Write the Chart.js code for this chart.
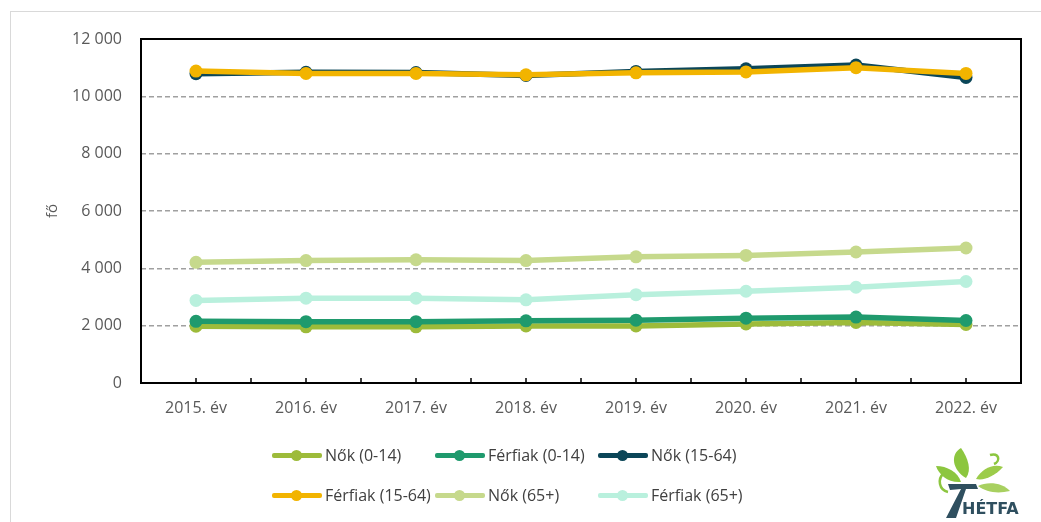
<!DOCTYPE html>
<html>
<head>
<meta charset="utf-8">
<script src="https://cdn.jsdelivr.net/npm/chart.js@4/dist/chart.umd.min.js"></script>
<style>
  html, body { margin:0; padding:0; background:#fff; }
  #wrap { position:relative; width:1041px; height:522px; overflow:hidden; background:#fff; font-family:"Open Sans", "Noto Sans", sans-serif; }
  #frame { position:absolute; left:10px; top:11px; width:1200px; height:700px; border:1px solid #d9d9d9; }
  #c { position:absolute; left:0; top:0; }
  .lg { position:absolute; height:20px; display:flex; align-items:center; font-size:16px; color:#404040; white-space:nowrap; }
  .lg .mk { position:relative; width:50px; height:5px; margin-right:3px; border-radius:2px; }
  .lg .mk i { position:absolute; left:19px; top:-3px; width:11px; height:11px; border-radius:50%; background:inherit; }
  #logo { position:absolute; left:930px; top:448px; }
</style>
</head>
<body>
<div id="wrap">
  <div id="frame"></div>
  <canvas id="c" width="1041" height="522"></canvas>
  <div id="legend"></div>
  <svg id="logo" width="111" height="74" viewBox="0 0 111 74">
    <path d="M36 30 C22 22 20 6 31 0 C38 10 42 22 36 30 Z" fill="#8cc63f"/>
    <path d="M31 34 C18 35 9 27 6 18 C17 18 28 24 31 34 Z" fill="#8cc63f"/>
    <path d="M46 31 C52 20 64 15 73 19 C65 28 54 33 46 31 Z" fill="#9ccc4a"/>
    <path d="M48 38 C58 33 73 35 80 43 C67 46 56 44 48 38 Z" fill="#a8d060"/>
    <path d="M14 25 C7 31 9 42 18 44" stroke="#8cc63f" stroke-width="2.5" fill="none"/>
    <path d="M60 7 C69 4 71 13 64 16" stroke="#8cc63f" stroke-width="2.5" fill="none"/>
    <path d="M18 36 L46 36 L48 41 L36 41 L26 70 L16 70 L31 41 L20 42 Z" fill="#2f4f5f"/>
    <text x="32" y="66" font-family="DejaVu Sans, sans-serif" font-weight="bold" font-size="16" fill="#2f4f5f">HÉTFA</text>
  </svg>
</div>
<script>
// years and series (fő)
const years = ['2015. év','2016. év','2017. év','2018. év','2019. év','2020. év','2021. év','2022. év'];
const seriesNames = ['Nők (0-14)','Férfiak (0-14)','Nők (15-64)','Férfiak (15-64)','Nők (65+)','Férfiak (65+)'];
const seriesColors = ['#9dbb3a','#1f9a6d','#0b4658','#f2b400','#c6d98c','#b9f0dd'];

const nok014    = [1980, 1960, 1960, 1990, 1990, 2060, 2110, 2040];
const ferfi014  = [2150, 2140, 2140, 2170, 2190, 2260, 2300, 2180];
const nok1564   = [10790, 10840, 10830, 10730, 10870, 10960, 11090, 10660];
const ferfi1564 = [10880, 10800, 10800, 10750, 10820, 10850, 11000, 10800];
const nok65     = [4210, 4270, 4300, 4270, 4400, 4450, 4570, 4710];
const ferfi65   = [2880, 2960, 2960, 2900, 3080, 3200, 3340, 3540];
const seriesValues = [nok014, ferfi014, nok1564, ferfi1564, nok65, ferfi65];

const yTicks = [0, 2000, 4000, 6000, 8000, 10000, 12000];

function fmt(v){ return String(v).replace(/\B(?=(\d{3})+(?!\d))/g, ' '); }

// black frame round the plot area + small inward ticks on the x axis
const plotFrame = {
  id:'plotFrame',
  afterDraw(chart){
    const {ctx, chartArea:a} = chart;
    const xs = chart.scales.x;
    ctx.save();
    ctx.strokeStyle = '#000'; ctx.lineWidth = 2;
    ctx.strokeRect(a.left, a.top, a.right - a.left, a.bottom - a.top);
    ctx.lineWidth = 1.5;
    ctx.beginPath();
    for(let i=0;i<years.length;i++){
      const p = xs.getPixelForValue(i);
      const half = (xs.getPixelForValue(1) - xs.getPixelForValue(0)) / 2;
      ctx.moveTo(p, a.bottom); ctx.lineTo(p, a.bottom - 5);
      if(i < years.length-1){ ctx.moveTo(p+half, a.bottom); ctx.lineTo(p+half, a.bottom - 5); }
    }
    ctx.stroke();
    ctx.restore();
  }
};

const datasets = seriesNames.map((n,i)=>({
  label:n, data:seriesValues[i],
  borderColor:seriesColors[i], backgroundColor:seriesColors[i],
  pointBackgroundColor:seriesColors[i], pointBorderColor:seriesColors[i],
  borderWidth:5.5, pointRadius:6.5, pointBorderWidth:0, tension:0,
  order: seriesNames.length - i
}));

const chart = new Chart(document.getElementById('c'), {
  type:'line',
  data:{ labels:years, datasets },
  options:{
    responsive:false, animation:false,
    layout:{ padding:{ top:39, right:20, left:0, bottom:0 } },
    plugins:{ legend:{display:false}, tooltip:{enabled:false} },
    scales:{
      x:{
        offset:true,
        grid:{ display:false, drawTicks:false },
        border:{ display:false },
        ticks:{ color:'#595959', font:{family:'"Open Sans"', size:16}, padding:16, maxRotation:0 },
        afterFit(s){ s.height = 139; }
      },
      y:{
        min:0, max:12000,
        afterBuildTicks(s){ s.ticks = yTicks.map(v=>({value:v})); },
        grid:{
          drawTicks:false,
          color:c => (c.tick.value===0 || c.tick.value===12000) ? 'rgba(0,0,0,0)' : '#a0a0a0',
          lineWidth:1.5
        },
        border:{ display:false, dash:[5,3] },
        ticks:{ color:'#595959', font:{family:'"Open Sans"', size:16}, padding:19, callback:v=>fmt(v) },
        title:{ display:true, text:'fő', color:'#595959', font:{family:'"Open Sans"', size:15}, padding:{top:44, bottom:0} },
        afterFit(s){ s.width = 141; }
      }
    }
  },
  plugins:[plotFrame]
});

// legend laid out in three fixed columns, like the original
const legendCols = [272, 435, 598];
const legendRows = [445, 485];
const lg = document.getElementById('legend');
chart.data.datasets.forEach((d,i)=>{
  const el = document.createElement('div');
  el.className = 'lg';
  el.style.left = legendCols[i%3] + 'px';
  el.style.top = legendRows[Math.floor(i/3)] + 'px';
  el.innerHTML = `<span class="mk" style="background:${d.borderColor}"><i></i></span>${d.label}`;
  lg.appendChild(el);
});
</script>
</body>
</html>
